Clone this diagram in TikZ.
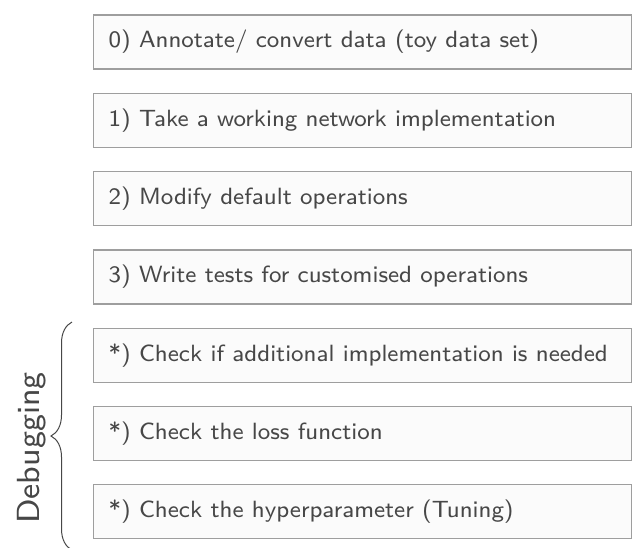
\documentclass[tikz,border=0pt]{standalone}
\usepackage{fontspec}
\newfontfamily\stepfont{lmsans8-regular}[Extension=.otf]
\usetikzlibrary{decorations.pathreplacing}
\begin{document}
\begin{tikzpicture}[x=1pt,y=-1pt,
  stepbox/.style={draw=black!38, line width=1.2pt, fill=black!1.5, minimum width=538pt, minimum height=54pt, anchor=west, inner sep=0pt},
  steptext/.style={anchor=west, text=black!72, font=\stepfont\fontsize{23.5}{28}\selectfont},
  bracelabel/.style={text=black!72, font=\stepfont\fontsize{32}{38}\selectfont, rotate=90}]
\useasboundingbox (0,0) rectangle (632,547);
\foreach \i/\t in {0/{0) Annotate/ convert data (toy data set)},
                   1/{1) Take a working network implementation},
                   2/{2) Modify default operations},
                   3/{3) Write tests for customised operations},
                   4/{*) Check if additional implementation is needed},
                   5/{*) Check the loss function},
                   6/{*) Check the hyperparameter (Tuning)}} {
  \node[stepbox] (b\i) at (93, {42+78.3*\i}) {};
  \node[steptext] (t\i) at ([xshift=12pt]b\i.west) {\t};
}
\coordinate (bt) at (72,322);
\coordinate (bb) at (72,550);
\draw[black!72, line width=1pt, decorate, decoration={brace, amplitude=21pt, mirror}] (bt) -- (bb);
\node[bracelabel] (lab) at (32,448) {Debugging};
\end{tikzpicture}
\end{document}
